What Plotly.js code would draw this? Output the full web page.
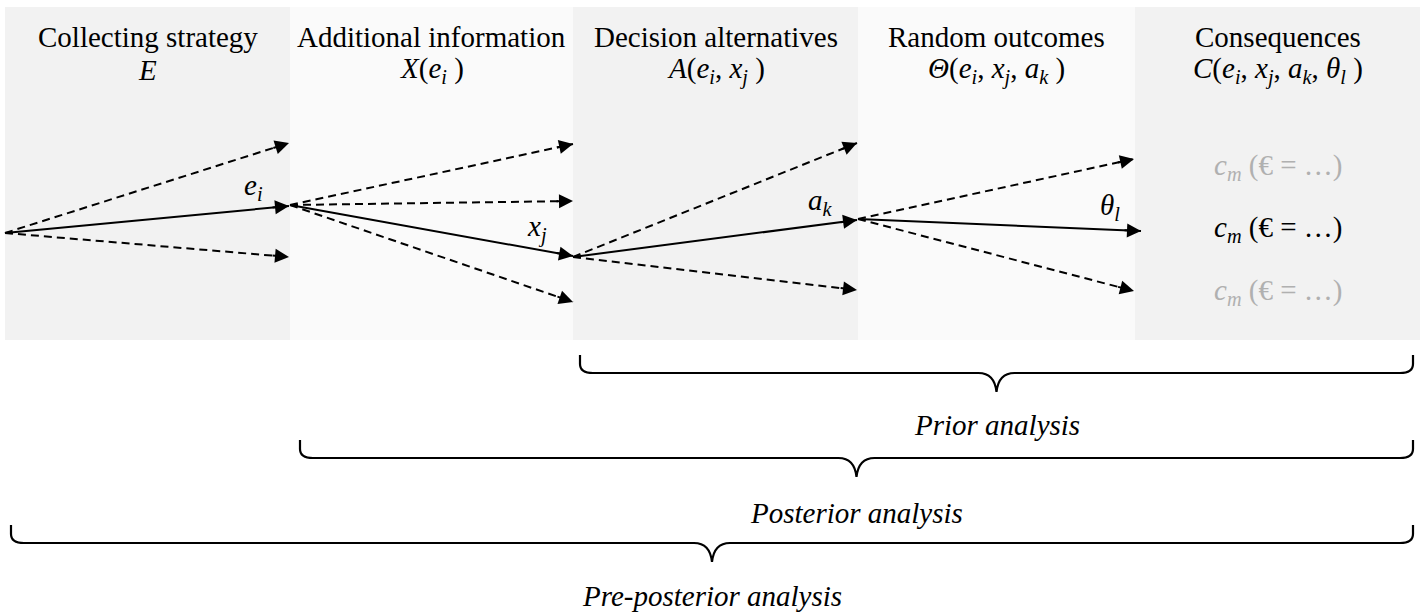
<!DOCTYPE html>
<html>
<head>
<meta charset="utf-8">
<script src="https://cdn.plot.ly/plotly-3.0.1.min.js"></script>
<style>html,body{margin:0;padding:0;background:#fff;}#chart{width:1427px;height:613px;}</style>
</head>
<body>
<div id="chart"></div>
<script>
// ---- data ----
const stageTitles = ['Collecting strategy', 'Additional information', 'Decision alternatives', 'Random outcomes', 'Consequences'];
const stageSymbols = [
  '<i>E</i>',
  '<i>X</i>(<i>e<sub>i</sub></i> )',
  '<i>A</i>(<i>e<sub>i</sub></i>, <i>x<sub>j</sub></i> )',
  '<i>Θ</i>(<i>e<sub>i</sub></i>, <i>x<sub>j</sub></i>, <i>a<sub>k</sub></i> )',
  '<i>C</i>(<i>e<sub>i</sub></i>, <i>x<sub>j</sub></i>, <i>a<sub>k</sub></i>, <i>θ<sub>l</sub></i> )'
];
const stageEdges = [5, 290, 573, 858, 1135, 1420];
const stageFill = ['#f2f2f2', '#fafafa', '#f2f2f2', '#fafafa', '#f2f2f2'];

// branches: start point, end point, chosen (solid) or alternative (dashed)
const branchX0 = [5, 5, 5, 290, 290, 290, 290, 573, 573, 573, 858, 858, 858];
const branchY0 = [233, 233, 233, 205, 205, 205, 205, 257, 257, 257, 219, 219, 219];
const branchX1 = [289, 289, 289, 573, 573, 573, 573, 857, 857, 857, 1134, 1141, 1134];
const branchY1 = [143, 206, 257, 144, 201, 256, 302, 143, 220, 290, 159, 231, 291];
const branchChosen = [false, true, false, false, false, true, false, false, true, false, false, true, false];

const branchLabels = ['<i>e<sub>i</sub></i>', '<i>x<sub>j</sub></i>', '<i>a<sub>k</sub></i>', '<i>θ<sub>l</sub></i>'];
const branchLabelX = [253, 537, 820, 1110];
const branchLabelY = [187, 228, 202, 207];

const outcomeLabels = ['<i>c<sub>m</sub></i> (€ = …)', '<i>c<sub>m</sub></i> (€ = …)', '<i>c<sub>m</sub></i> (€ = …)'];
const outcomeY = [167, 229, 292];
const outcomeColor = ['#b0b0b0', '#000000', '#b0b0b0'];

const braceLabels = ['Prior analysis', 'Posterior analysis', 'Pre-posterior analysis'];
const braceX0 = [580, 300, 11];
const braceX1 = [1413, 1413, 1413];
const braceTop = [355, 440, 525];
const braceLabelY = [425, 513, 596];

// ---- build ----
const FONT = 'Liberation Serif';
const FS = 29;
const shapes = [];
const annotations = [];

for (let i = 0; i < stageTitles.length; i++) {
  shapes.push({type: 'rect', xref: 'x', yref: 'y', layer: 'below',
    x0: stageEdges[i], x1: stageEdges[i + 1], y0: 7, y1: 340,
    fillcolor: stageFill[i], line: {width: 0}});
  const cx = (stageEdges[i] + stageEdges[i + 1]) / 2;
  annotations.push({x: cx, y: 37, xref: 'x', yref: 'y', text: stageTitles[i], showarrow: false,
    font: {family: FONT, size: FS, color: '#000'}, xanchor: 'center', yanchor: 'middle'});
  annotations.push({x: cx, y: 70, xref: 'x', yref: 'y', text: stageSymbols[i], showarrow: false,
    font: {family: FONT, size: FS, color: '#000'}, xanchor: 'center', yanchor: 'middle'});
}

const solid = {x: [], y: []}, dashed = {x: [], y: []};
for (let i = 0; i < branchX0.length; i++) {
  const t = branchChosen[i] ? solid : dashed;
  t.x.push(branchX0[i], branchX1[i], null);
  t.y.push(branchY0[i], branchY1[i], null);
  const dx = branchX1[i] - branchX0[i], dy = branchY1[i] - branchY0[i];
  const L = Math.hypot(dx, dy);
  annotations.push({x: branchX1[i], y: branchY1[i], ax: branchX1[i] - dx / L * 18, ay: branchY1[i] - dy / L * 18,
    xref: 'x', yref: 'y', axref: 'x', ayref: 'y', text: '', showarrow: true,
    arrowhead: 2, arrowsize: 1.4, arrowwidth: 2, arrowcolor: '#000', standoff: 0});
}

for (let i = 0; i < branchLabels.length; i++) {
  annotations.push({x: branchLabelX[i], y: branchLabelY[i], xref: 'x', yref: 'y', text: branchLabels[i],
    showarrow: false, font: {family: FONT, size: FS, color: '#000'}, xanchor: 'center', yanchor: 'middle'});
}

for (let i = 0; i < outcomeLabels.length; i++) {
  annotations.push({x: (stageEdges[4] + stageEdges[5]) / 2, y: outcomeY[i], xref: 'x', yref: 'y', text: outcomeLabels[i],
    showarrow: false, font: {family: FONT, size: FS, color: outcomeColor[i]}, xanchor: 'center', yanchor: 'middle'});
}

function bracePath(x0, x1, y0) {
  const yh = y0 + 18, yt = yh + 19, xm = (x0 + x1) / 2, r = 13, rm = 18;
  return `M${x0},${y0} L${x0},${yh - 9} Q${x0},${yh} ${x0 + r},${yh} L${xm - rm},${yh} ` +
    `Q${xm - 2},${yh} ${xm},${yt} Q${xm + 2},${yh} ${xm + rm},${yh} L${x1 - r},${yh} ` +
    `Q${x1},${yh} ${x1},${yh - 9} L${x1},${y0}`;
}
for (let i = 0; i < braceLabels.length; i++) {
  shapes.push({type: 'path', xref: 'x', yref: 'y', path: bracePath(braceX0[i], braceX1[i], braceTop[i]),
    line: {color: '#000', width: 2.2}});
  annotations.push({x: (braceX0[i] + braceX1[i]) / 2, y: braceLabelY[i], xref: 'x', yref: 'y',
    text: '<i>' + braceLabels[i] + '</i>', showarrow: false,
    font: {family: FONT, size: FS, color: '#000'}, xanchor: 'center', yanchor: 'middle'});
}

const traces = [
  {x: solid.x, y: solid.y, mode: 'lines', line: {color: '#000', width: 2}, hoverinfo: 'skip', connectgaps: false},
  {x: dashed.x, y: dashed.y, mode: 'lines', line: {color: '#000', width: 2, dash: '8px,5px'}, hoverinfo: 'skip', connectgaps: false}
];

const layout = {
  width: 1427, height: 613,
  margin: {l: 0, r: 0, t: 0, b: 0, pad: 0},
  paper_bgcolor: '#ffffff', plot_bgcolor: '#ffffff',
  showlegend: false,
  font: {family: FONT},
  xaxis: {range: [0, 1427], visible: false, fixedrange: true},
  yaxis: {range: [613, 0], visible: false, fixedrange: true},
  shapes: shapes,
  annotations: annotations
};

Plotly.newPlot('chart', traces, layout, {displayModeBar: false, staticPlot: true});
</script>
</body>
</html>
